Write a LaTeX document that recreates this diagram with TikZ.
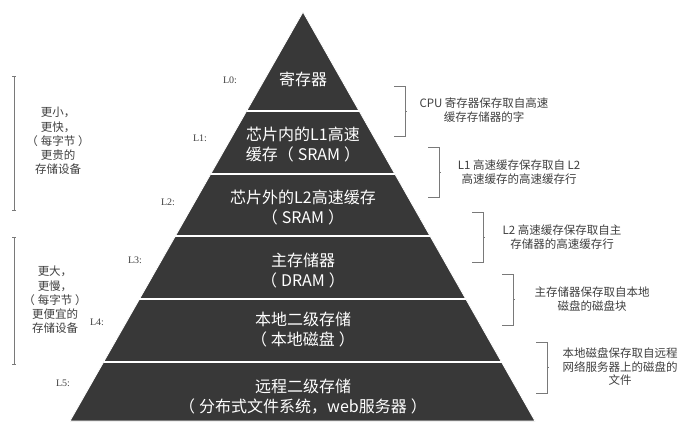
\documentclass[tikz,border=0pt]{standalone}
\usepackage{fontspec}
\setmainfont{Noto Sans CJK SC}
\newfontfamily\labfont{Liberation Serif}
\usetikzlibrary{calc}
\definecolor{pyrfill}{rgb}{0.22,0.22,0.22}
\definecolor{inkgray}{rgb}{0.25,0.25,0.25}
\newcommand{\po}{（\hspace{0.25em}}
\newcommand{\pc}{\hspace{0.25em}）}
\tikzset{
  pyr/.style={fill=pyrfill, draw=white, line width=0.8pt},
  sepline/.style={draw=white, line width=2pt},
  bandtxt/.style={text=white, font=\fontsize{16}{20}\selectfont, align=center, inner sep=0pt},
  lvl/.style={text=inkgray, font=\labfont\fontsize{10}{12}\selectfont, inner sep=0pt},
  note/.style={text=inkgray, font=\fontsize{11.5}{13.5}\selectfont, align=center, inner sep=0pt},
  sidenote/.style={text=inkgray, font=\fontsize{11.5}{14.2}\selectfont, align=center, inner sep=0pt},
  brk/.style={draw=inkgray!70, line width=0.8pt},
  ruler/.style={draw=inkgray!70, line width=0.9pt},
}
\begin{document}
\begin{tikzpicture}[x=1pt,y=-1pt]
\useasboundingbox[fill=white] (0,0) rectangle (696,431);
% pyramid
\coordinate (A) at (303,12);
\coordinate (BL) at (70,421);
\coordinate (BR) at (535,421);
\fill[pyr] (A) -- (BL) -- (BR) -- cycle;
\foreach \t in {0.242,0.396,0.548,0.702,0.856}
  \draw[sepline] ($(A)!\t!(BL)$) -- ($(A)!\t!(BR)$);
% band texts
\node[bandtxt] (b0) at (303,79) {寄存器};
\node[bandtxt] (b1) at (303,145) {芯片内的L1高速\\缓存\po SRAM\pc};
\node[bandtxt] (b2) at (303,208) {芯片外的L2高速缓存\\\po SRAM\pc};
\node[bandtxt] (b3) at (303,271) {主存储器\\\po DRAM\pc};
\node[bandtxt] (b4) at (303,330) {本地二级存储\\\po 本地磁盘\pc};
\node[bandtxt] (b5) at (303,397) {远程二级存储\\\po 分布式文件系统，web服务器\pc};
% level labels
\node[lvl] (l0) at (230,80) {L0:};
\node[lvl] (l1) at (200,138) {L1:};
\node[lvl] (l2) at (168,202) {L2:};
\node[lvl] (l3) at (135,260) {L3:};
\node[lvl] (l4) at (97,322) {L4:};
\node[lvl] (l5) at (63,383) {L5:};
% left side
\draw[ruler] (14,76) -- (14,210);
\draw[ruler] (12,76) -- (16,76);
\draw[ruler] (12,210) -- (16,210);
\node[sidenote] (s1) at (58,141) {更小，\\更快，\\\po 每字节\pc\\更贵的\\存储设备};
\draw[ruler] (14,237) -- (14,364);
\draw[ruler] (12,237) -- (16,237);
\draw[ruler] (12,364) -- (16,364);
\node[sidenote] (s2) at (55,300) {更大，\\更慢，\\\po 每字节\pc\\更便宜的\\存储设备};
% right brackets
\foreach \x/\ya/\yb [count=\i] in {405/86/136, 439/147/197, 483/212/262, 513/274/325, 547/342/393}{
  \coordinate (kt\i) at (\x,\ya);
  \coordinate (kb\i) at (\x,\yb);
  \draw[brk] ($(kt\i)+(-11,0)$) -- (kt\i) -- (kb\i) -- ($(kb\i)+(-11,0)$);
  \draw[brk] ($(kt\i)!0.5!(kb\i)$) -- ++(2,0);
}
\node[note] (n1) at (484,110) {CPU 寄存器保存取自高速\\缓存存储器的字};
\node[note] (n2) at (519,172) {L1 高速缓存保存取自 L2\\高速缓存的高速缓存行};
\node[note] (n3) at (562,237) {L2 高速缓存保存取自主\\存储器的高速缓存行};
\node[note] (n4) at (592,299) {主存储器保存取自本地\\磁盘的磁盘块};
\node[note] (n5) at (620,367) {本地磁盘保存取自远程\\网络服务器上的磁盘的\\文件};
\end{tikzpicture}
\end{document}
